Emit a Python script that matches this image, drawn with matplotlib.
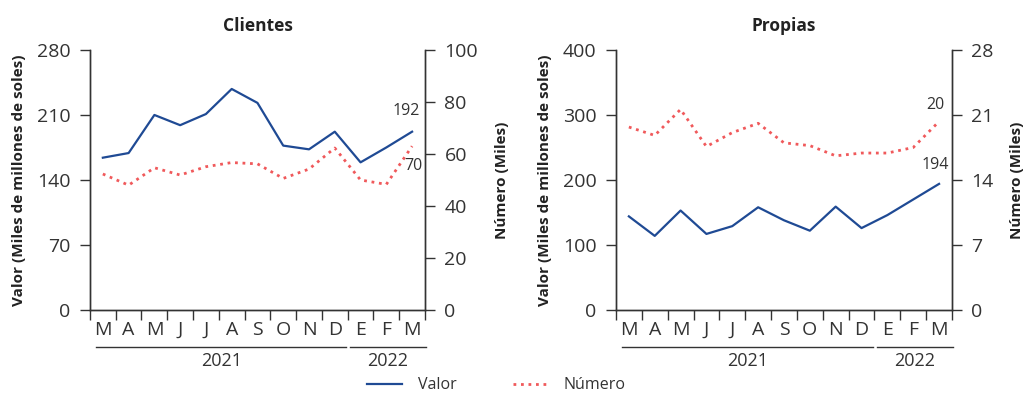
import numpy as np
import matplotlib.pyplot as plt
import matplotlib.transforms as mtransforms

plt.rcParams['font.family'] = ['Open Sans', 'DejaVu Sans']

# datos
meses = ['M', 'A', 'M', 'J', 'J', 'A', 'S', 'O', 'N', 'D', 'E', 'F', 'M']
anios = ['2021', '2022']
n_2021 = 10

clientes_valor = [164, 169, 210, 199, 211, 238, 223, 177, 173, 192, 159, 175, 192]
clientes_numero = [52.3, 48.0, 54.7, 51.9, 55.1, 56.7, 56.2, 50.6, 54.2, 62.3, 50.0, 48.3, 63.0]
propias_valor = [144, 114, 153, 117, 129, 158, 138, 122, 159, 126, 146, 170, 194]
propias_numero = [19.7, 18.8, 21.6, 17.6, 19.1, 20.1, 18.0, 17.7, 16.6, 16.9, 16.9, 17.5, 20.3]

etiquetas_clientes = ['192', '70']
etiquetas_propias = ['194', '20']

azul = '#1f4a94'
rojo = '#f0595b'
gris = '#333333'

fig = plt.figure(figsize=(10.34, 3.94), dpi=100)


def panel(rect, titulo, valor, numero, ylim_v, yt_v, ylim_n, yt_n, etq, off_v, off_n):
    ax = fig.add_axes(rect)
    ax2 = ax.twinx()
    x = np.arange(len(meses))
    lv, = ax.plot(x, valor, color=azul, lw=1.6)
    ln, = ax2.plot(x, numero, color=rojo, lw=2.0, ls=(0, (1, 1.7)))
    ax.set_ylim(*ylim_v)
    ax.set_yticks(yt_v)
    ax2.set_ylim(*ylim_n)
    ax2.set_yticks(yt_n)
    ax.set_xlim(-0.5, len(meses) - 0.5)
    ax.set_xticks(np.arange(-0.5, len(meses)), [''] * (len(meses) + 1))
    ax.set_xticks(x, meses, minor=True)
    ax.tick_params(axis='x', which='major', length=7, width=1, color=gris)
    ax.tick_params(axis='x', which='minor', length=0, pad=8, labelsize=14, labelcolor=gris)
    ax.tick_params(axis='y', length=7, width=1, color=gris, labelsize=14, labelcolor=gris, pad=7)
    ax2.tick_params(axis='y', length=7, width=1, color=gris, labelsize=14, labelcolor=gris, pad=7)
    for a in (ax, ax2):
        a.spines['top'].set_visible(False)
        for s in ('left', 'right', 'bottom'):
            a.spines[s].set_color(gris)
            a.spines[s].set_linewidth(1)
    ax.set_title(titulo, fontsize=12.5, fontweight='bold', pad=14, color='#222222')
    ax.set_ylabel('Valor (Miles de millones de soles)', fontsize=11, fontweight='bold',
                  color='#222222', labelpad=8)
    ax2.set_ylabel('Número (Miles)', fontsize=11, fontweight='bold', color='#222222', labelpad=12)

    # años
    tr = mtransforms.blended_transform_factory(ax.transData, ax.transAxes)
    tramos = [(-0.25, n_2021 - 0.55), (n_2021 - 0.42, len(meses) - 0.45)]
    for (a0, a1), anio in zip(tramos, anios):
        ax.plot([a0, a1], [-0.141, -0.141], transform=tr, color=gris, lw=1, clip_on=False)
        ax.text((a0 + a1) / 2, -0.197, anio, transform=tr, ha='center', va='center',
                fontsize=13, color=gris)

    # etiquetas del último dato
    ax.annotate(etq[0], (x[-1], valor[-1]), xytext=off_v, textcoords='offset pixels',
                ha='center', va='center', fontsize=11.5, color=gris)
    ax2.annotate(etq[1], (x[-1], numero[-1]), xytext=off_n, textcoords='offset pixels',
                 ha='center', va='center', fontsize=11.5, color=gris)
    return lv, ln


lv, ln = panel([0.087, 0.2132, 0.324, 0.66], 'Clientes', clientes_valor, clientes_numero,
               (0, 280), [0, 70, 140, 210, 280], (0, 100), [0, 20, 40, 60, 80, 100],
               etiquetas_clientes, (-6, 21), (1, -20))
panel([0.5957, 0.2132, 0.325, 0.66], 'Propias', propias_valor, propias_numero,
      (0, 400), [0, 100, 200, 300, 400], (0, 28), [0, 7, 14, 21, 28],
      etiquetas_propias, (-4, 19), (-4, 16))

fig.legend([lv, ln], ['Valor', 'Número'], loc='center', bbox_to_anchor=(0.48, 0.022),
           ncol=2, frameon=False, fontsize=11.5, handlelength=2.2, handletextpad=1.0,
           columnspacing=3.5, labelcolor=gris)

fig.savefig('out.png', dpi=100)
